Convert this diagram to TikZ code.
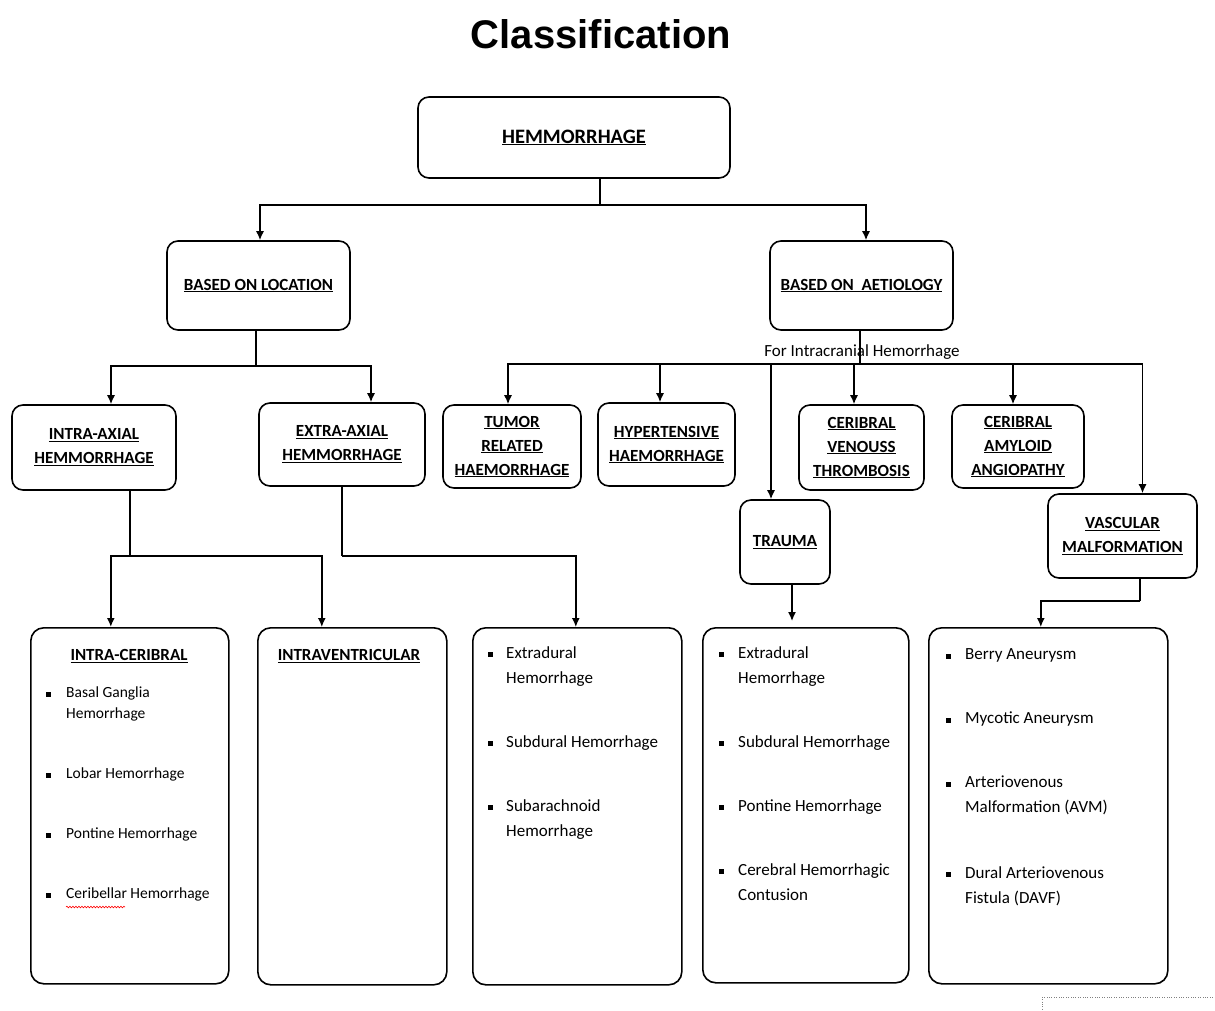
\documentclass[tikz,border=0pt]{standalone}
\usepackage{fontspec}
\setmainfont{Carlito}
\newfontfamily\titlefont{Liberation Sans}
\usetikzlibrary{arrows.meta,decorations.pathmorphing}
\newcommand{\uln}[1]{\underline{#1}}

\begin{document}
\begin{tikzpicture}[x=1pt,y=-1pt,
    box/.style={draw,line width=1.6pt,rounded corners=11pt,align=center,inner sep=0pt,
      font=\fontsize{17}{24}\selectfont\bfseries},
    listbox/.style={draw,line width=1.6pt,rounded corners=13pt,anchor=north west,inner sep=0pt},
    head/.style={font=\fontsize{17}{24}\selectfont\bfseries,inner sep=0pt},
    item/.style={anchor=north west,align=left,inner sep=0pt,font=\fontsize{17}{25}\selectfont},
    smallitem/.style={item,font=\fontsize{15.5}{21}\selectfont},
    link/.style={line width=1.4pt},
    arr/.style={line width=1.4pt,-{Latex[length=9pt,width=8pt]}}]
  \useasboundingbox (0,0) rectangle (1215,1010);
  \fill[white] (0,0) rectangle (1215,1010);

  % title
  \node (title) at (601,34) {\fontsize{40}{48}\selectfont\titlefont\bfseries Classification};

  % top levels
  \node[box,minimum width=312,minimum height=81] (hem) at (574,137.5) {\fontsize{20.5}{24}\selectfont\uln{HEMMORRHAGE}};
  \node[box,minimum width=183,minimum height=89] (loc) at (258.5,285.5) {\uln{BASED ON LOCATION}};
  \node[box,minimum width=183,minimum height=89] (aet) at (861.5,285.5) {\uln{BASED ON\ \ AETIOLOGY}};

  % location branch
  \node[box,minimum width=164,minimum height=85] (intra) at (94,447.5) {\uln{INTRA-AXIAL}\\\uln{HEMMORRHAGE}};
  \node[box,minimum width=166,minimum height=83] (extra) at (342,444.5) {\uln{EXTRA-AXIAL}\\\uln{HEMMORRHAGE}};

  % aetiology branch
  \node[box,minimum width=138,minimum height=83] (tumor) at (512,446.5) {\uln{TUMOR}\\\uln{RELATED}\\\uln{HAEMORRHAGE}};
  \node[box,minimum width=137,minimum height=83] (hyper) at (666.5,444.5) {\uln{HYPERTENSIVE}\\\uln{HAEMORRHAGE}};
  \node[box,minimum width=125,minimum height=85] (cvt) at (861.5,447.5) {\uln{CERIBRAL}\\\uln{VENOUSS}\\\uln{THROMBOSIS}};
  \node[box,minimum width=132,minimum height=83] (caa) at (1018,446.5) {\uln{CERIBRAL}\\\uln{AMYLOID}\\\uln{ANGIOPATHY}};
  \node[box,minimum width=90,minimum height=84] (trauma) at (785,542) {\uln{TRAUMA}};
  \node[box,minimum width=149,minimum height=84] (vasc) at (1122.5,536) {\uln{VASCULAR}\\\uln{MALFORMATION}};
  \node (note) at (862,352) {\fontsize{17}{20}\selectfont For Intracranial Hemorrhage};

  % bottom boxes
  \node[listbox,minimum width=198,minimum height=356] (icb) at (30,627) {};
  \node[listbox,minimum width=189,minimum height=357] (ivb) at (257,627) {};
  \node[listbox,minimum width=209,minimum height=357] (exb) at (472,627) {};
  \node[listbox,minimum width=206,minimum height=355] (trb) at (702,627) {};
  \node[listbox,minimum width=239,minimum height=356] (vmb) at (928,627) {};

  \node[head] (ich) at (129,656) {\uln{INTRA-CERIBRAL}};
  \node[head] (ivh) at (349,656) {\uln{INTRAVENTRICULAR}};

  \foreach \t/\y [count=\i] in {{Basal Ganglia\\Hemorrhage}/695,{Lobar Hemorrhage}/776,
      {Pontine Hemorrhage}/836,{Ceribellar Hemorrhage}/896}{
    \node[smallitem] (ic\i) at (66,\y-8) {\t};
    \fill (48,\y) +(-2.5,-3) rectangle +(2.5,2);
  }
  \draw[red,line width=0.6pt,decorate,decoration={snake,amplitude=0.8pt,segment length=3pt}]
    (66,907) -- (125,907);

  \foreach \t/\y [count=\i] in {{Extradural\\Hemorrhage}/655,{Subdural Hemorrhage}/744,
      {Subarachnoid\\Hemorrhage}/808}{
    \node[item] (ex\i) at (506,\y-9) {\t};
    \fill (490,\y) +(-2.5,-3) rectangle +(2.5,2);
  }

  \foreach \t/\y [count=\i] in {{Extradural\\Hemorrhage}/655,{Subdural Hemorrhage}/744,
      {Pontine Hemorrhage}/808,{Cerebral Hemorrhagic\\Contusion}/872}{
    \node[item] (tr\i) at (738,\y-9) {\t};
    \fill (721,\y) +(-2.5,-3) rectangle +(2.5,2);
  }

  \foreach \t/\y [count=\i] in {{Berry Aneurysm}/657,{Mycotic Aneurysm}/721,
      {Arteriovenous\\Malformation (AVM)}/785,{Dural Arteriovenous\\Fistula (DAVF)}/875}{
    \node[item] (vm\i) at (965,\y-9) {\t};
    \fill (948,\y) +(-2.5,-3) rectangle +(2.5,2);
  }

  % connectors
  \draw[link] ([xshift=26]hem.south) -- ++(0,26) coordinate (j1);
  \draw[arr] (j1) -| ([xshift=1.5]loc.north);
  \draw[arr] (j1) -| ([xshift=4.5]aet.north);

  \draw[link] ([xshift=-2.5]loc.south) -- ++(0,35) coordinate (j2);
  \draw[arr] (j2) -| ([xshift=17]intra.north);
  \draw[arr] (j2) -| ([xshift=29]extra.north);

  \draw[link] ([xshift=-1.5]aet.south) -- ++(0,33) coordinate (j3);
  \draw[arr] (j3) -| ([xshift=-4]tumor.north);
  \draw[arr] (j3) -| ([xshift=-6.5]hyper.north);
  \draw[arr] (j3) -| ([xshift=-7.5]cvt.north);
  \draw[arr] (j3) -| ([xshift=-5]caa.north);
  \draw[arr] (j3) -| ([xshift=-14]trauma.north);
  \draw[arr] (j3) -| ([xshift=20]vasc.north);

  \draw[link] ([xshift=36]intra.south) -- (130,556) coordinate (j4);
  \draw[arr,line width=2.4pt] (j4) -| ([xshift=-19]icb.north);
  \draw[arr] (j4) -| ([xshift=-30.5]ivb.north);

  \draw[link] (extra.south) -- (342,556) coordinate (j5);
  \draw[arr] (j5) -| ([xshift=-1.5]exb.north);

  \draw[arr,shorten >=6pt] ([xshift=7]trauma.south) -- ([xshift=7]trauma.south |- trb.north);

  \draw[link] ([xshift=17.5]vasc.south) -- ++(0,22) coordinate (j6);
  \draw[arr] (j6) -| ([xshift=-7.5]vmb.north);

  \draw[gray,dotted] (1215,997) -- (1042,997) -- (1042,1010);
\end{tikzpicture}
\end{document}
